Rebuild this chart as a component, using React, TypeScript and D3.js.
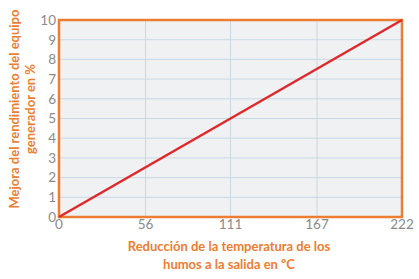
import React from "react";
import * as d3 from "d3";

const xTicks = [0, 56, 111, 167, 222];
const yTicks = [0, 1, 2, 3, 4, 5, 6, 7, 8, 9, 10];
const lineX = [0, 222];
const lineY = [0, 10];
const yTitle = ["Mejora del rendimiento del equipo", "generador en %"];
const xTitle = ["Reducción de la temperatura de los", "humos a la salida en ºC"];

const W = 419, H = 279;
const m = { l: 59, r: 17, t: 20, b: 62 };
const orange = "#ed7d31";
const font = "Lato, 'Open Sans', sans-serif";

export default function App() {
  const x = d3.scaleLinear().domain([0, 222]).range([m.l, W - m.r]);
  const y = d3.scaleLinear().domain([0, 10]).range([H - m.b, m.t]);
  const line = d3.line<number>().x((d) => x(lineX[d])).y((d) => y(lineY[d]));
  const yc = 109;
  return (
    <svg width={W} height={H} style={{ position: "absolute", left: 0, top: 0, background: "#fff" }} fontFamily={font}>
      <rect x={x(0)} y={y(10)} width={x(222) - x(0)} height={y(0) - y(10)} fill="#eff1f3" />
      {yTicks.map((t) => (
        <line key={"gy" + t} x1={x(0)} x2={x(222)} y1={y(t)} y2={y(t)} stroke="#c9d9e3" strokeWidth={1} />
      ))}
      {xTicks.map((t) => (
        <line key={"gx" + t} x1={x(t)} x2={x(t)} y1={y(0)} y2={y(10)} stroke="#c9d9e3" strokeWidth={1} />
      ))}
      <rect x={x(0)} y={y(10)} width={x(222) - x(0)} height={y(0) - y(10)} fill="none" stroke={orange} strokeWidth={2.5} />
      <path d={line([0, 1]) || ""} fill="none" stroke="#e0282a" strokeWidth={2.5} />
      {yTicks.map((t) => (
        <text key={"ty" + t} x={x(0) - 3} y={y(t)} dy="0.36em" textAnchor="end" fontSize={13.5} fill="#8a8a8a">{t}</text>
      ))}
      {xTicks.map((t) => (
        <text key={"tx" + t} x={x(t)} y={y(0) + 12} textAnchor="middle" fontSize={13.5} fill="#8a8a8a">{t}</text>
      ))}
      <text transform={`translate(19,${yc}) rotate(-90)`} textAnchor="middle" fontSize={13} fontWeight="bold" fill={orange}>
        {yTitle[0]}
      </text>
      <text transform={`translate(35,${yc}) rotate(-90)`} textAnchor="middle" fontSize={13} fontWeight="bold" fill={orange}>
        {yTitle[1]}
      </text>
      <text x={229} y={251} textAnchor="middle" fontSize={13} fontWeight="bold" fill={orange}>{xTitle[0]}</text>
      <text x={229} y={269} textAnchor="middle" fontSize={13} fontWeight="bold" fill={orange}>{xTitle[1]}</text>
    </svg>
  );
}
